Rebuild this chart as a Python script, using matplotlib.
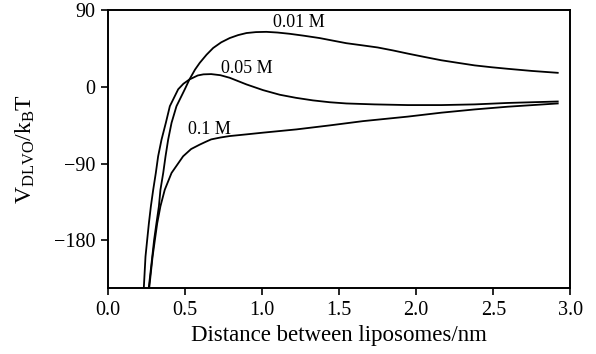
import matplotlib
matplotlib.use("Agg")
import matplotlib.pyplot as plt

plt.rcParams['font.family'] = ['Liberation Serif', 'DejaVu Serif']
plt.rcParams['mathtext.fontset'] = 'custom'
plt.rcParams['mathtext.rm'] = 'Liberation Serif'
plt.rcParams['mathtext.it'] = 'Liberation Serif'

# 0.01 M
x_001 = [0.265, 0.288, 0.300, 0.315, 0.331, 0.341, 0.359, 0.374, 0.391, 0.413, 0.445, 0.499,
         0.529, 0.565, 0.596, 0.640, 0.683, 0.735, 0.790, 0.845, 0.899, 0.960, 1.028, 1.100,
         1.180, 1.270, 1.374, 1.460, 1.547, 1.650, 1.750, 1.850, 1.946, 2.050, 2.163, 2.270,
         2.379, 2.490, 2.594, 2.750, 2.918]
v_001 = [-236, -199, -179.4, -160, -140, -120.7, -101, -81.5, -62, -42.3, -22.8, -3,
         8.5, 20, 28, 37.5, 45.4, 52, 57, 60.5, 62.9, 64, 64.3, 63.5,
         62, 59.8, 57, 54, 51, 48.5, 46, 42.5, 38.8, 35, 31, 28,
         25, 22.8, 21, 18.5, 16.3]

# 0.05 M
x_005 = [0.233, 0.244, 0.255, 0.266, 0.279, 0.294, 0.311, 0.326, 0.348, 0.376, 0.402, 0.456,
         0.490, 0.529, 0.583, 0.620, 0.670, 0.730, 0.790, 0.899, 1.007, 1.115, 1.220, 1.330,
         1.440, 1.547, 1.730, 1.946, 2.163, 2.379, 2.594, 2.918]
v_005 = [-236, -199, -179.4, -160, -140, -120.7, -101, -81.5, -62, -42.3, -22.8, -3,
         3.5, 8.5, 13.2, 14.5, 14.8, 13.5, 10.5, 2.7, -4, -9.4, -13, -16,
         -18.2, -19.6, -20.7, -21.5, -21.5, -20.7, -19, -17.3]

# 0.1 M
x_01 = [0.268, 0.290, 0.305, 0.320, 0.341, 0.369, 0.413, 0.488, 0.540, 0.596, 0.635, 0.670,
        0.730, 0.790, 0.900, 1.007, 1.223, 1.439, 1.655, 1.946, 2.163, 2.379, 2.594, 2.918]
v_01 = [-236, -199, -179.4, -160, -140, -120.7, -101, -81.5, -73, -67.8, -64.5, -61.7,
        -59.5, -57.8, -55.8, -53.8, -50, -45.3, -40.3, -35, -30.4, -26.6, -23.4, -19.6]

labels = ['0.01 M', '0.05 M', '0.1 M']
label_pos = [(1.238, 75.5), (0.90, 21.7), (0.661, -49.6)]

fig = plt.figure(figsize=(5.96, 3.54), dpi=100)
ax = fig.add_axes([0.181, 0.186, 0.776, 0.786])

for xs, vs in [(x_001, v_001), (x_005, v_005), (x_01, v_01)]:
    ax.plot(xs, vs, color='black', lw=1.3, solid_joinstyle='round')

for lab, (lx, ly) in zip(labels, label_pos):
    ax.text(lx, ly, lab, ha='center', va='center', fontsize=13)

ax.set_xlim(0, 3.0)
ax.set_ylim(-236, 90)
ax.set_xticks([0.0, 0.5, 1.0, 1.5, 2.0, 2.5, 3.0])
ax.set_xticklabels(['0.0', '0.5', '1.0', '1.5', '2.0', '2.5', '3.0'])
ax.set_yticks([90, 0, -90, -180])
ax.set_yticklabels(['90', '0', '\u221290', '\u2212180'])
ax.tick_params(direction='out', length=5, width=1.2, labelsize=14.5, colors='black', pad=4)
for s in ax.spines.values():
    s.set_linewidth(1.4)

ax.set_xlabel('Distance between liposomes/nm', fontsize=16.5)
ax.set_ylabel(r'$\mathrm{V_{DLVO}/k_BT}$', fontsize=17)
ax.xaxis.set_label_coords(0.5, -0.171)
ax.xaxis.label.set_va('center')
ax.yaxis.set_label_coords(-0.178, 0.5)
ax.yaxis.label.set_va('center')

fig.savefig('out.png', dpi=100)
